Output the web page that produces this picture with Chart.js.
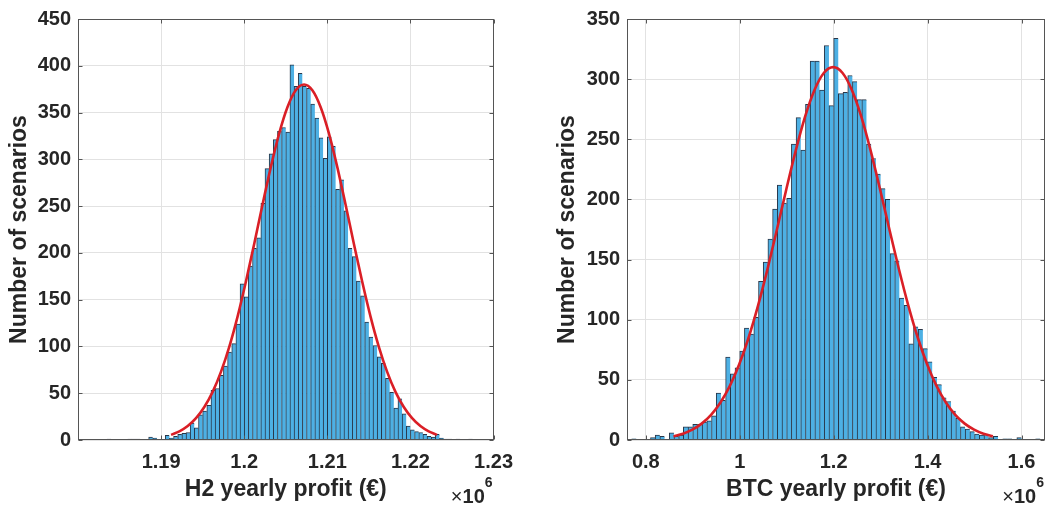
<!DOCTYPE html>
<html><head><meta charset="utf-8">
<script src="https://cdn.jsdelivr.net/npm/chart.js"></script>
<style>
html,body{margin:0;padding:0;background:#fff;}
#wrap{position:relative;width:1046px;height:506px;overflow:hidden;background:#fff;}
canvas{position:absolute;top:0;}
#c1{left:0;} #c2{left:523px;}
</style></head><body>
<div id="wrap"><canvas id="c1" width="523" height="506"></canvas><canvas id="c2" width="523" height="506"></canvas></div>
<script>
// ---------- H2 histogram (values in units of 10^6 EUR) ----------
const h2BinStart = 1.18;
const h2BinWidth = 0.0005;
const h2Counts = [
  0,0,0,0,0,0,0,1,0,0,
  0,0,1,1,1,0,0,3,2,0,
  0,5,2,4,6,7,8,18,13,27,
  31,37,53,55,69,79,94,103,124,167,
  153,186,205,216,253,290,306,321,330,334,
  329,401,378,392,378,376,359,344,323,301,
  324,314,268,278,245,205,196,170,154,126,
  110,101,89,82,66,51,34,44,28,15,
  11,9,8,6,4,3,6,2,1,1,
  0,1,0,0,1,0,0,0,0,0
];
const h2FitX = [1.1912,1.1922,1.1932,1.1942,1.1952,1.1962,1.1972,1.1982,1.1992,1.2002,1.2012,1.2022,1.2032,1.2042,1.2052,1.2062,1.2072,1.2082,1.2092,1.2102,1.2112,1.2122,1.2132,1.2142,1.2152,1.2162,1.2172,1.2182,1.2192,1.2202,1.2212,1.2222,1.2232];
const h2FitY = [5.5,9.2,14.9,23.3,35.2,51.4,72.8,99.6,131.9,169.1,209.6,251.4,291.7,327.5,355.7,373.8,380,373.8,355.7,327.5,291.7,251.4,209.6,169.1,131.9,99.6,72.8,51.4,35.2,23.3,14.9,9.2,5.5];
const h2XTicks = [1.19, 1.2, 1.21, 1.22, 1.23];
const h2XTickLabels = ['1.19', '1.2', '1.21', '1.22', '1.23'];
const h2YTicks = [0, 50, 100, 150, 200, 250, 300, 350, 400, 450];

// ---------- BTC histogram ----------
const btcBinStart = 0.76;
const btcBinWidth = 0.01;
const btcCounts = [
  0,1,0,0,0,2,4,3,0,6,
  3,4,11,11,13,13,15,16,20,39,
  33,69,55,60,74,93,88,102,132,148,
  167,192,212,197,201,246,268,241,279,315,
  315,291,328,278,334,288,289,303,298,283,
  283,246,234,221,209,200,155,149,118,112,
  80,94,92,76,65,52,46,35,32,24,
  18,11,9,7,5,4,5,2,3,0,
  1,1,0,2,0,0,0,1,0
];
const btcFitX = [0.859,0.879,0.899,0.919,0.939,0.959,0.979,0.999,1.019,1.039,1.059,1.079,1.099,1.119,1.139,1.159,1.179,1.199,1.219,1.239,1.259,1.279,1.299,1.319,1.339,1.359,1.379,1.399,1.419,1.439,1.459,1.479,1.499,1.519,1.539];
const btcFitY = [3.1,5.2,8.6,13.6,20.9,31.2,45.0,62.9,85.2,111.7,141.9,174.6,208.1,240.2,268.6,290.8,305.1,310,305.1,290.8,268.6,240.2,208.1,174.6,141.9,111.7,85.2,62.9,45.0,31.2,20.9,13.6,8.6,5.2,3.1];
const btcXTicks = [0.8, 1, 1.2, 1.4, 1.6];
const btcXTickLabels = ['0.8', '1', '1.2', '1.4', '1.6'];
const btcYTicks = [0, 50, 100, 150, 200, 250, 300, 350];

// ---------- styling ----------
const FONT = "'Liberation Sans', Arial, Helvetica, sans-serif";
const TXT = '#262626';
const FILL = '#4DB0E4';
const EDGE = 'rgba(18,32,52,0.9)';
const RED = '#DA1F26';
const GRID = '#e2e2e2';
const BOX = '#555555';

function boxPlugin(o) {
  return {
    id: 'matlabBox',
    afterDraw(chart) {
      const {ctx, chartArea: a, scales: {x, y}} = chart;
      ctx.save();
      const L = Math.round(a.left) + 0.5, R = Math.round(a.right) - 0.5;
      const T = Math.round(a.top) + 0.5, B = Math.round(a.bottom) - 0.5;
      ctx.strokeStyle = BOX; ctx.lineWidth = 1;
      ctx.strokeRect(L, T, R - L, B - T);
      ctx.beginPath();
      o.yTicks.forEach(v => {
        const p = Math.round(y.getPixelForValue(v)) + 0.5;
        ctx.moveTo(L, p); ctx.lineTo(L + 4, p);
        ctx.moveTo(R, p); ctx.lineTo(R - 4, p);
      });
      o.xTicks.forEach(v => {
        const p = Math.round(x.getPixelForValue(v)) + 0.5;
        ctx.moveTo(p, B); ctx.lineTo(p, B - 4);
        ctx.moveTo(p, T); ctx.lineTo(p, T + 4);
      });
      ctx.stroke();
      // exponent label x10^6
      ctx.fillStyle = TXT; ctx.textBaseline = 'alphabetic'; ctx.textAlign = 'left';
      ctx.font = 'bold 14px ' + FONT; const w6 = ctx.measureText('6').width;
      ctx.font = 'bold 20px ' + FONT; const w10 = ctx.measureText('10').width;
      ctx.font = '20px ' + FONT; const wx = ctx.measureText('\u00d7').width;
      const x0 = a.right - 1 - w6 - w10 - wx;
      ctx.font = '20px ' + FONT; ctx.fillText('\u00d7', x0, 503);
      ctx.font = 'bold 20px ' + FONT; ctx.fillText('10', x0 + wx, 503);
      ctx.font = 'bold 14px ' + FONT; ctx.fillText('6', x0 + wx + w10, 487);
      ctx.restore();
    }
  };
}

function makeChart(id, o) {
  const bars = o.counts.map((c, i) => ({x: o.binStart + (i + 0.5) * o.binWidth, y: c}));
  const fit = o.fitX.map((xv, i) => ({x: xv, y: o.fitY[i]}));
  const tickFont = {family: FONT, size: 20, weight: 'bold'};
  const titleFont = {family: FONT, size: 23, weight: 'bold'};
  return new Chart(document.getElementById(id), {
    type: 'bar',
    data: {datasets: [
      {type: 'line', data: fit, borderColor: RED, borderWidth: 2.6, pointRadius: 0,
       tension: 0.4, cubicInterpolationMode: 'monotone', fill: false, order: 0},
      {type: 'bar', data: bars, backgroundColor: FILL, borderColor: EDGE,
       borderWidth: {left: 1, top: 1, right: 0, bottom: 0},
       barPercentage: 1, categoryPercentage: 1, order: 1}
    ]},
    options: {
      responsive: false, animation: false, devicePixelRatio: 1,
      layout: {padding: {top: 17, right: o.padRight, left: 0, bottom: 0}},
      plugins: {legend: {display: false}, tooltip: {enabled: false}},
      scales: {
        x: {
          type: 'linear', min: o.xMin, max: o.xMax, offset: false,
          grid: {color: GRID, offset: false, drawTicks: false},
          border: {display: false},
          afterBuildTicks: s => { s.ticks = o.xTicks.map(v => ({value: v})); },
          ticks: {autoSkip: false, maxRotation: 0, minRotation: 0, padding: 10, font: tickFont, color: TXT,
                  callback: (v, i) => o.xTickLabels[i]},
          title: {display: true, text: o.xTitle, font: titleFont, color: TXT, padding: {top: 0, bottom: 3}},
          afterFit: s => { s.height = 66; }
        },
        y: {
          type: 'linear', min: 0, max: o.yMax,
          grid: {color: GRID, drawTicks: false},
          border: {display: false},
          afterBuildTicks: s => { s.ticks = o.yTicks.map(v => ({value: v})); },
          ticks: {padding: 7, font: tickFont, color: TXT, callback: v => String(v)},
          title: {display: true, text: 'Number of scenarios', font: titleFont, color: TXT,
                  padding: {top: o.yTitlePad, bottom: 0}},
          afterFit: s => { s.width = o.yAxisWidth; }
        }
      }
    },
    plugins: [boxPlugin(o)]
  });
}

makeChart('c1', {
  counts: h2Counts, binStart: h2BinStart, binWidth: h2BinWidth,
  fitX: h2FitX, fitY: h2FitY, xTicks: h2XTicks, xTickLabels: h2XTickLabels, yTicks: h2YTicks,
  xMin: 1.18, xMax: 1.23, yMax: 450, xTitle: 'H2 yearly profit (\u20ac)',
  padRight: 29, yAxisWidth: 78, yTitlePad: 6
});
makeChart('c2', {
  counts: btcCounts, binStart: btcBinStart, binWidth: btcBinWidth,
  fitX: btcFitX, fitY: btcFitY, xTicks: btcXTicks, xTickLabels: btcXTickLabels, yTicks: btcYTicks,
  xMin: 0.76, xMax: 1.65, yMax: 350, xTitle: 'BTC yearly profit (\u20ac)',
  padRight: 1, yAxisWidth: 104, yTitlePad: 31
});
</script>
</body></html>
